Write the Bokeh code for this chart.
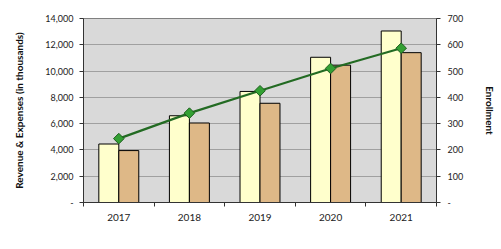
from bokeh.plotting import figure
from bokeh.models import (Range1d, LinearAxis, FixedTicker, NumeralTickFormatter,
                          Legend, LegendItem, ColumnDataSource)
from bokeh.embed import file_html
from bokeh.resources import INLINE

years = ["2017", "2018", "2019", "2020", "2021"]
revenue = [4450, 6600, 8450, 11050, 13050]
expenses = [3950, 6050, 7550, 10450, 11400]
enrollment = [243, 340, 425, 510, 587]
left_ticks = [0, 2000, 4000, 6000, 8000, 10000, 12000, 14000]
right_ticks = [0, 100, 200, 300, 400, 500, 600, 700]

FONT = "Lato"
BAR_W = 0.283

xc = [i + 0.5 for i in range(len(years))]
src = ColumnDataSource(dict(
    xr=[x - BAR_W / 2 for x in xc],
    xe=[x + BAR_W / 2 for x in xc],
    xc=xc, rev=revenue, exp=expenses, enr=enrollment))

p = figure(frame_width=353, frame_height=184, output_backend="svg",
           toolbar_location=None,
           x_range=Range1d(0, len(years)), y_range=Range1d(0, 14000),
           min_border_left=83, min_border_right=65, min_border_top=18,
           min_border_bottom=36)
p.background_fill_color = "#D9D9D9"
p.border_fill_color = "white"
p.outline_line_color = "#808080"
p.outline_line_width = 1

p.extra_y_ranges = {"enr": Range1d(0, 700)}

r1 = p.vbar(x="xr", top="rev", width=BAR_W, source=src, fill_color="#FFFFCC",
            line_color="black", line_width=1)
r2 = p.vbar(x="xe", top="exp", width=BAR_W, source=src, fill_color="#DEB887",
            line_color="black", line_width=1)
r3 = p.line(x="xc", y="enr", source=src, y_range_name="enr", line_color="#236B23",
            line_width=2.2)
r4 = p.scatter(x="xc", y="enr", source=src, y_range_name="enr", marker="square",
               angle=0.785398, size=7.5, fill_color="#33A033", line_color="#1E5E1E",
               line_width=1)

# grid
p.xgrid.grid_line_color = None
p.ygrid.ticker = FixedTicker(ticks=left_ticks)
p.ygrid.grid_line_color = "#A0A0A0"
p.ygrid.grid_line_width = 1.2

def style_axis(ax):
    ax.axis_line_color = "#333333"
    ax.major_tick_line_color = "#333333"
    ax.major_tick_out = 4
    ax.major_tick_in = 0
    ax.minor_tick_line_color = None
    ax.major_label_text_font = FONT
    ax.major_label_text_font_size = "9px"
    ax.major_label_text_color = "#222222"
    ax.axis_label_text_font = FONT
    ax.axis_label_text_font_size = "10px"
    ax.axis_label_text_font_style = "bold"
    ax.axis_label_text_color = "#111111"

# x axis
xa = p.xaxis[0]
style_axis(xa)
xa.ticker = FixedTicker(ticks=xc, minor_ticks=list(range(len(years) + 1)))
xa.major_label_overrides = {x: y for x, y in zip(xc, years)}
xa.major_tick_line_color = None
xa.minor_tick_line_color = "#333333"
xa.minor_tick_out = 4
xa.minor_tick_in = 0
xa.major_label_standoff = 7
xa.major_label_text_font_size = "10px"

# left axis
ya = p.yaxis[0]
style_axis(ya)
ya.ticker = FixedTicker(ticks=left_ticks)
ya.formatter = NumeralTickFormatter(format="0,0")
ya.major_label_overrides = {0: "-"}
ya.major_label_standoff = 6
ya.axis_label = "Revenue & Expenses (in thousands)"
ya.axis_label_standoff = 17

# right axis
ra = LinearAxis(y_range_name="enr")
style_axis(ra)
ra.ticker = FixedTicker(ticks=right_ticks)
ra.major_label_overrides = {0: "-"}
ra.major_label_standoff = 7
ra.axis_label = "Enrollment"
ra.axis_label_standoff = 18
p.add_layout(ra, "right")

legend = Legend(items=[
    LegendItem(label="Revenue", renderers=[r1]),
    LegendItem(label="Expenses", renderers=[r2]),
    LegendItem(label="Enrollment", renderers=[r3, r4]),
], orientation="horizontal", location=(-7, 0))
legend.padding = 0
legend.margin = 0
legend.spacing = 0
legend.glyph_width = 22
legend.glyph_height = 7
legend.label_standoff = 3
legend.label_width = 108
legend.label_height = 10
legend.label_text_font = FONT
legend.label_text_font_size = "10px"
legend.label_text_color = "#222222"
legend.border_line_alpha = 0
legend.background_fill_alpha = 0
p.add_layout(legend, "below")

open("out.html", "w").write(file_html(p, INLINE))
